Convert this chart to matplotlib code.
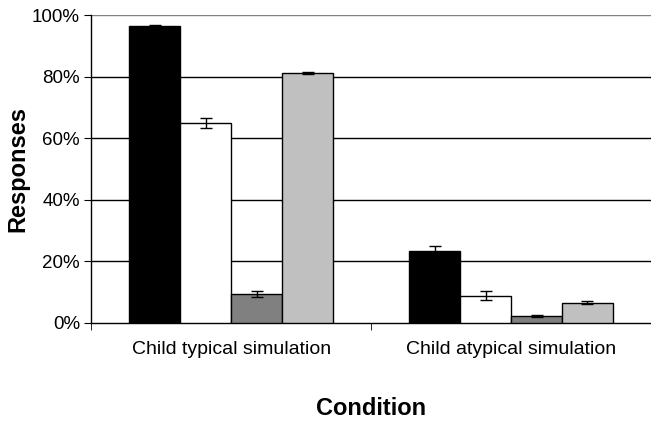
import matplotlib.pyplot as plt
import numpy as np

plt.rcParams['font.family'] = ['Liberation Sans', 'DejaVu Sans']

# Данные
conditions = ['Child typical simulation', 'Child atypical simulation']
series_colors = ['#000000', '#ffffff', '#808080', '#c0c0c0']
values = [
    [96.4, 23.5],   # черный
    [64.9, 8.9],    # белый
    [9.4, 2.2],     # темно-серый
    [81.2, 6.6],    # светло-серый
]
errors = [
    [0.3, 1.5],
    [1.7, 1.6],
    [1.1, 0.3],
    [0.3, 0.5],
]
yticks = [0, 20, 40, 60, 80, 100]

fig = plt.figure(figsize=(6.51, 4.21), dpi=100)
ax = fig.add_axes([0.14, 0.233, 0.86, 0.731])

x = np.arange(len(conditions))
width = 0.182
for i, (vals, errs, col) in enumerate(zip(values, errors, series_colors)):
    pos = x + (i - 1.5) * width
    ax.bar(pos, vals, width, color=col, edgecolor='black', linewidth=1.0, zorder=3)
    ax.errorbar(pos, vals, yerr=errs, fmt='none', ecolor='black',
                elinewidth=1.0, capsize=4, capthick=1.0, zorder=4)

ax.set_ylim(0, 100)
ax.set_xlim(-0.5, 1.5)
ax.set_yticks(yticks)
ax.set_yticklabels([f'{v}%' for v in yticks], fontsize=13.5)
for v in yticks[1:]:
    ax.axhline(v, color='black' if v < 100 else '#808080', linewidth=1.0, zorder=1)

ax.set_xticks(x)
ax.set_xticklabels(conditions, fontsize=14)
ax.tick_params(axis='x', which='major', length=0, pad=13)
ax.set_xticks([-0.5, 0.5, 1.5], minor=True)
ax.tick_params(axis='x', which='minor', length=5, direction='out')
ax.tick_params(axis='y', length=5, direction='out', pad=3)

for s in ['top', 'right']:
    ax.spines[s].set_visible(False)
ax.spines['left'].set_linewidth(1.0)
ax.spines['bottom'].set_linewidth(1.0)

ax.set_ylabel('Responses', fontsize=17, fontweight='bold', labelpad=2)
ax.set_xlabel('Condition', fontsize=17, fontweight='bold', labelpad=28)

plt.savefig('out.png', dpi=100)
